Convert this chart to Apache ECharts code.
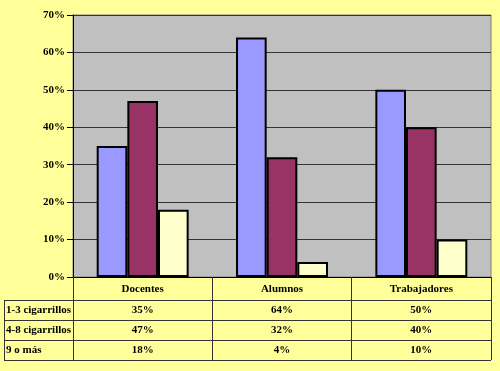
<!DOCTYPE html>
<html><head><meta charset="utf-8">
<script src="https://cdn.jsdelivr.net/npm/echarts@6/dist/echarts.min.js"></script>
<style>html,body{margin:0;padding:0;background:#FFFF99;}#c{width:500px;height:371px;}</style>
</head><body><div id="c"></div>
<script>
const categories = ['Docentes', 'Alumnos', 'Trabajadores'];
const seriesNames = ['1-3 cigarrillos', '4-8 cigarrillos', '9 o más'];
const serie1 = [35, 64, 50];
const serie2 = [47, 32, 40];
const serie3 = [18, 4, 10];
const yTicks = [0, 10, 20, 30, 40, 50, 60, 70];

const colors = ['#9999FF', '#993366', '#FFFFCC'];
const allSeries = [serie1, serie2, serie3];
const font = 'Liberation Serif';
const L = 73, R = 491, T = 15, B = 277;
const rowCenters = [289, 310.5, 330.5, 350.5];
const rowLines = [300, 320, 340, 360];
const lineColor = '#333';

const chart = echarts.init(document.getElementById('c'), null, {renderer: 'canvas'});

const labelStyle = {show: true, margin: 0, verticalAlign: 'middle', color: '#000',
  fontFamily: font, fontWeight: 'bold', fontSize: 11};

const xAxes = [{
  type: 'category', data: categories, gridIndex: 0, position: 'bottom',
  axisLine: {show: true, lineStyle: {color: '#000', width: 1}},
  axisTick: {show: true, length: 360 - B, lineStyle: {color: lineColor, width: 1}},
  axisLabel: Object.assign({}, labelStyle, {margin: rowCenters[0] - B}),
  offset: 0
}];
allSeries.forEach((s, i) => {
  xAxes.push({
    type: 'category', data: s.map(v => v + '%'), gridIndex: 0, position: 'bottom',
    offset: rowCenters[i + 1] - B,
    axisLine: {show: false}, axisTick: {show: false},
    axisLabel: Object.assign({}, labelStyle)
  });
});

const graphics = [];
rowLines.forEach(y => {
  graphics.push({type: 'line', shape: {x1: 4, y1: y + 0.5, x2: R, y2: y + 0.5},
    style: {stroke: lineColor, lineWidth: 1}, silent: true});
});
graphics.push({type: 'line', shape: {x1: 4.5, y1: 300, x2: 4.5, y2: 360},
  style: {stroke: lineColor, lineWidth: 1}, silent: true});
seriesNames.forEach((n, i) => {
  graphics.push({type: 'text', x: 6, y: rowCenters[i + 1],
    style: {text: n, fill: '#000', font: 'bold 11px "' + font + '"', verticalAlign: 'middle', align: 'left'},
    silent: true});
});

chart.setOption({
  backgroundColor: '#FFFF99',
  animation: false,
  grid: {left: L, right: 500 - R, top: T, bottom: 371 - B, show: true,
    backgroundColor: '#C0C0C0', borderColor: '#808080', borderWidth: 1, containLabel: false},
  xAxis: xAxes,
  yAxis: {
    type: 'value', min: yTicks[0], max: yTicks[yTicks.length - 1], interval: 10,
    axisLine: {show: true, lineStyle: {color: '#000', width: 1}},
    axisTick: {show: true, length: 6, lineStyle: {color: '#000'}},
    splitLine: {show: true, lineStyle: {color: '#333', width: 1}},
    axisLabel: {formatter: '{value}%', color: '#000', fontFamily: font, fontWeight: 'bold',
      fontSize: 11, margin: 8}
  },
  series: allSeries.map((s, i) => ({
    name: seriesNames[i], type: 'bar', data: s, xAxisIndex: 0,
    barGap: '0%', barCategoryGap: '34%',
    itemStyle: {color: colors[i], borderColor: '#000', borderWidth: 2}
  })),
  graphic: graphics
});
</script></body></html>
